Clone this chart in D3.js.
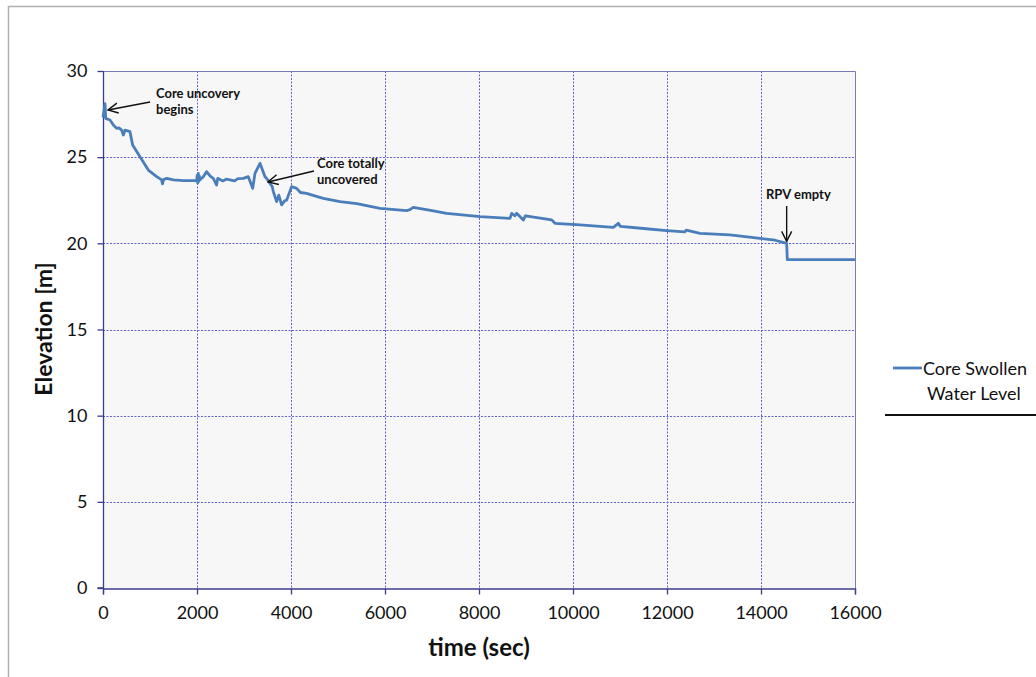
<!DOCTYPE html>
<html>
<head>
<meta charset="utf-8">
<script src="https://cdn.jsdelivr.net/npm/d3@7"></script>
<style>
  html, body { margin: 0; padding: 0; background: #fff; }
  svg { display: block; }
  text { font-family: Lato, "Open Sans", sans-serif; }
</style>
</head>
<body>
<svg id="chart" width="1036" height="677"></svg>
<script>
// Core swollen water level history
const timeSec = [0, 43, 57, 149, 220, 290, 340, 397, 433, 468, 574, 631, 787, 964, 1142, 1248, 1265, 1290, 1355,
  1500, 1709, 1993, 2005, 2015, 2028, 2040, 2050, 2070, 2130, 2206, 2280, 2347, 2418, 2440, 2550, 2620, 2702,
  2800, 2870, 2986, 3092, 3185, 3234, 3340,
  3447, 3500, 3553, 3600, 3624, 3660, 3695, 3740, 3801, 3860, 3908, 4014, 4120, 4200, 4333, 4450, 4688, 5042,
  5400, 5893, 6461, 6530, 6603, 7000, 7312,
  8021, 8660, 8695, 8760, 8802, 8943, 8990, 9546, 9617, 10149, 10858, 10965, 11010, 11500, 11993, 12380, 12410,
  12702, 13340, 13979, 14300, 14546, 14560, 16000];
const levelM = [27.3, 28.1, 27.25, 27.16, 26.87, 26.67, 26.7, 26.57, 26.29, 26.57, 26.48, 25.7, 25.03, 24.25, 23.87,
  23.68, 23.45, 23.7, 23.77, 23.68, 23.64, 23.64, 23.95, 23.5, 24.06, 23.6, 23.9, 23.7, 23.85, 24.16, 23.9, 23.77,
  23.38, 23.77, 23.62, 23.72, 23.68, 23.62, 23.75, 23.77, 23.87, 23.19, 24.06, 24.64,
  23.87, 23.7, 23.48, 23.3, 23.0, 22.7, 22.42, 22.8, 22.23, 22.45, 22.51, 23.29, 23.19, 22.95, 22.9, 22.8,
  22.61, 22.42, 22.3, 22.03, 21.9, 21.95, 22.09, 21.9, 21.74, 21.55, 21.45, 21.74, 21.6, 21.74, 21.36, 21.6,
  21.36, 21.16, 21.07, 20.93, 21.16, 20.98, 20.86, 20.74, 20.66, 20.76, 20.58, 20.49, 20.29, 20.18, 20.0, 19.05, 19.05];

const xTicks = [0, 2000, 4000, 6000, 8000, 10000, 12000, 14000, 16000];
const yTicks = [0, 5, 10, 15, 20, 25, 30];

// callouts: text position, arrow tail (px) and arrow tip (data units)
const annotations = [
  { lines: ["Core uncovery", "begins"], tx: 156, ty: 98, tail: [150, 102], tip: [106, 27.74] },
  { lines: ["Core totally", "uncovered"], tx: 317, ty: 168, tail: [314, 171], tip: [3511, 23.56] }
];

const svg = d3.select("#chart");
const margin = { left: 103, top: 71, right: 855, bottom: 588 };

const x = d3.scaleLinear().domain([0, 16000]).range([margin.left, margin.right]);
const y = d3.scaleLinear().domain([0, 30]).range([margin.bottom, margin.top]);

// outer frame
svg.append("path")
  .attr("d", "M8.5,677 V6.5 H1036")
  .attr("fill", "none").attr("stroke", "#b0b0b0").attr("stroke-width", 1.5);

// plot background
svg.append("rect")
  .attr("x", margin.left).attr("y", margin.top)
  .attr("width", margin.right - margin.left).attr("height", margin.bottom - margin.top)
  .attr("fill", "#f7f7f7");

const gridColor = "#6262c8";
// vertical grid
svg.append("g").selectAll("line").data(xTicks.slice(1, -1)).join("line")
  .attr("x1", d => Math.round(x(d)) + 0.5).attr("x2", d => Math.round(x(d)) + 0.5)
  .attr("y1", margin.top).attr("y2", margin.bottom)
  .attr("stroke", gridColor).attr("stroke-width", 1).attr("stroke-dasharray", "2,1.5");
// horizontal grid
svg.append("g").selectAll("line").data(yTicks.slice(1, -1)).join("line")
  .attr("x1", margin.left).attr("x2", margin.right)
  .attr("y1", d => Math.round(y(d)) + 0.5).attr("y2", d => Math.round(y(d)) + 0.5)
  .attr("stroke", gridColor).attr("stroke-width", 1).attr("stroke-dasharray", "2,1.5");

// plot border (top and right)
svg.append("path")
  .attr("d", `M${margin.left},${margin.top + 0.5} H${margin.right + 0.5} V${margin.bottom}`)
  .attr("fill", "none").attr("stroke", "#7a7ab8").attr("stroke-width", 1);

const axisColor = "#3c3c8c";
// x axis
const gx = svg.append("g").attr("transform", `translate(0,${margin.bottom + 0.5})`)
  .call(d3.axisBottom(x).tickValues(xTicks).tickSize(6).tickPadding(12).tickFormat(d3.format("d")));
// y axis
const gy = svg.append("g").attr("transform", `translate(${margin.left + 0.5},0)`)
  .call(d3.axisLeft(y).tickValues(yTicks).tickSize(6).tickPadding(10).tickFormat(d3.format("d")));
[gx, gy].forEach(g => {
  g.select(".domain").attr("stroke", axisColor).attr("stroke-width", 1.3);
  g.selectAll(".tick line").attr("stroke", axisColor).attr("stroke-width", 1.3);
  g.selectAll(".tick text").attr("fill", "#111").style("font-size", "18px")
    .style("font-family", "Lato, 'Open Sans', sans-serif");
});
gy.select(".domain").attr("d", `M-6,${margin.bottom}H0V${margin.top}`);

// data line
const line = d3.line().x((d, i) => x(timeSec[i])).y((d, i) => y(levelM[i]));
svg.append("path")
  .datum(levelM)
  .attr("d", line)
  .attr("fill", "none").attr("stroke", "#4a7ebb").attr("stroke-width", 2.8)
  .attr("stroke-linejoin", "round");

// axis titles
svg.append("text").attr("x", 479).attr("y", 656).attr("text-anchor", "middle")
  .style("font-size", "24px").style("font-weight", "bold").attr("fill", "#111").text("time (sec)");
svg.append("text").attr("transform", "translate(52,329) rotate(-90)").attr("text-anchor", "middle")
  .style("font-size", "23px").style("font-weight", "bold").attr("fill", "#111").text("Elevation [m]");

// callout arrows
const defs = svg.append("defs");
defs.append("marker").attr("id", "arrow").attr("viewBox", "0 0 12 12")
  .attr("refX", 11).attr("refY", 6).attr("markerWidth", 12).attr("markerHeight", 12)
  .attr("markerUnits", "userSpaceOnUse").attr("orient", "auto")
  .append("path").attr("d", "M1,1 L11,6 L1,11").attr("fill", "none").attr("stroke", "#111").attr("stroke-width", 1.4);

annotations.forEach(a => {
  const t = svg.append("text").attr("x", a.tx).attr("y", a.ty)
    .style("font-size", "13px").style("font-weight", "bold").attr("fill", "#111");
  a.lines.forEach((l, i) => t.append("tspan").attr("x", a.tx).attr("dy", i ? 16 : 0).text(l));
  svg.append("line")
    .attr("x1", a.tail[0]).attr("y1", a.tail[1])
    .attr("x2", x(a.tip[0])).attr("y2", y(a.tip[1]))
    .attr("stroke", "#111").attr("stroke-width", 1.4).attr("marker-end", "url(#arrow)");
});

svg.append("text").attr("x", 766).attr("y", 199)
  .style("font-size", "13px").style("font-weight", "bold").attr("fill", "#111").text("RPV empty");
svg.append("line")
  .attr("x1", x(14546)).attr("y1", 206).attr("x2", x(14546)).attr("y2", y(20.0) - 2)
  .attr("stroke", "#111").attr("stroke-width", 1.4).attr("marker-end", "url(#arrow)");

// legend
svg.append("line").attr("x1", 893).attr("x2", 922).attr("y1", 368).attr("y2", 368)
  .attr("stroke", "#4a7ebb").attr("stroke-width", 2.8);
svg.append("text").attr("x", 923).attr("y", 375).style("font-size", "18px").attr("fill", "#111").text("Core Swollen");
svg.append("text").attr("x", 927).attr("y", 400).style("font-size", "18px").attr("fill", "#111").text("Water Level");
svg.append("line").attr("x1", 885).attr("x2", 1036).attr("y1", 415).attr("y2", 415)
  .attr("stroke", "#111").attr("stroke-width", 2.2);
</script>
</body>
</html>
